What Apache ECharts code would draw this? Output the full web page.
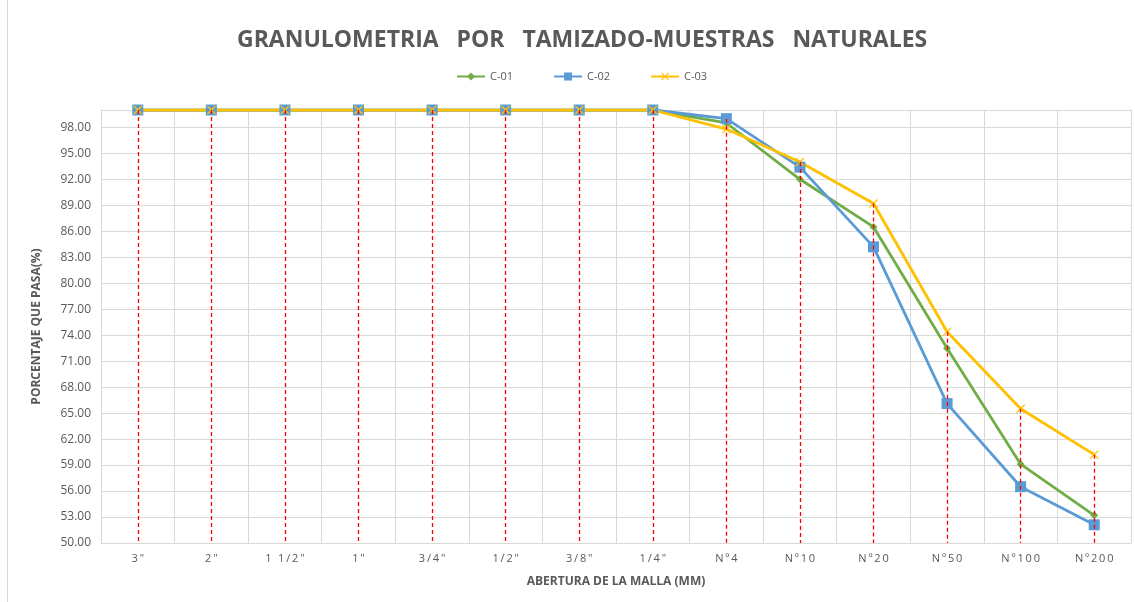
<!DOCTYPE html>
<html>
<head>
<meta charset="utf-8">
<script src="https://cdn.jsdelivr.net/npm/echarts@6/dist/echarts.min.js"></script>
<style>
  html,body{margin:0;padding:0;background:#fff;}
  #frame{position:absolute;left:7px;top:-1px;width:1140px;height:610px;border:1px solid #d9d9d9;}
  #myChart{position:absolute;left:0;top:0;width:1135px;height:602px;}
</style>
</head>
<body>
<div id="frame"></div>
<div id="myChart"></div>
<script>
// tamices
let sieves=['3"','2"','1 1/2"','1"','3/4"','1/2"','3/8"','1/4"','Nº4','Nº10','Nº20','Nº50','Nº100','Nº200']
let c01=[100,100,100,100,100,100,100,100,98.5,92.0,86.5,72.5,59.1,53.2]
let c02=[100,100,100,100,100,100,100,100,99.0,93.4,84.2,66.1,56.5,52.1]
let c03=[100,100,100,100,100,100,100,100,97.8,94.0,89.2,74.4,65.5,60.2]

// lineas de caida (rojas) desde el punto mas alto hasta el eje
let drops=sieves.map((s,i)=>{
  let top=Math.max(c01[i],c02[i],c03[i])
  return [{coord:[i,top]},{coord:[i,50]}]
})

let xMark='path://M0,1L1,0L5,4L9,0L10,1L6,5L10,9L9,10L5,6L1,10L0,9L4,5Z'

let myChart=echarts.init(document.getElementById("myChart"))
myChart.setOption({
  animation:false,
  title:{
    text:"GRANULOMETRIA   POR   TAMIZADO-MUESTRAS   NATURALES",
    left:232,
    top:24,
    textStyle:{
      color:"#595959",
      fontSize:23,
      fontWeight:"bold",
      fontFamily:"Open Sans",
    },
  },
  legend:{
    top:66,
    left:451,
    itemGap:40,
    itemWidth:28,
    itemHeight:10,
    textStyle:{color:"#595959",fontSize:11,fontFamily:"Liberation Sans Narrow, Open Sans"},
    data:["C-01","C-02","C-03"],
  },
  grid:{
    left:101,
    right:4,
    top:110,
    bottom:59,
  },
  xAxis:{
    type:"category",
    data:sieves,
    boundaryGap:true,
    name:"ABERTURA DE LA MALLA (MM)",
    nameLocation:"middle",
    nameGap:33,
    nameTextStyle:{color:"#595959",fontSize:12,fontWeight:"bold",fontFamily:"Open Sans"},
    axisLine:{lineStyle:{color:"#d9d9d9"}},
    axisTick:{show:false},
    axisLabel:{
      color:"#595959",
      fontSize:11,
      margin:10,
      fontFamily:"Open Sans",
      formatter:(v)=>v.split('').join('\u2009'),
    },
    splitLine:{show:true,lineStyle:{color:"#d9d9d9",width:1}},
  },
  yAxis:{
    type:"value",
    min:50,
    max:100,
    interval:3,
    name:"PORCENTAJE QUE PASA(%)",
    nameLocation:"middle",
    nameGap:58,
    nameTextStyle:{color:"#595959",fontSize:12,fontWeight:"bold",fontFamily:"Open Sans"},
    axisLine:{show:true,lineStyle:{color:"#d9d9d9"}},
    axisTick:{show:false},
    axisLabel:{
      color:"#595959",
      fontSize:12,
      margin:10,
      showMaxLabel:false,
      fontFamily:"Open Sans",
      formatter:(v)=>v.toFixed(2),
    },
    splitLine:{show:true,lineStyle:{color:"#d9d9d9",width:1}},
  },
  series:[
    {
      name:"C-01",
      type:"line",
      data:c01,
      symbol:"diamond",
      symbolSize:8,
      itemStyle:{color:"#70AD47"},
      lineStyle:{width:2.8,color:"#70AD47"},
      markLine:{
        silent:true,
        symbol:"none",
        label:{show:false},
        lineStyle:{color:"#FF0000",type:[4,3],width:1.3},
        data:drops,
      },
    },
    {
      name:"C-02",
      type:"line",
      data:c02,
      symbol:"rect",
      symbolSize:11,
      itemStyle:{color:"#5B9BD5"},
      lineStyle:{width:2.8,color:"#5B9BD5"},
    },
    {
      name:"C-03",
      type:"line",
      data:c03,
      symbol:xMark,
      symbolSize:9,
      itemStyle:{color:"#FFC000"},
      lineStyle:{width:2.8,color:"#FFC000"},
    },
  ],
})
</script>
</body>
</html>
